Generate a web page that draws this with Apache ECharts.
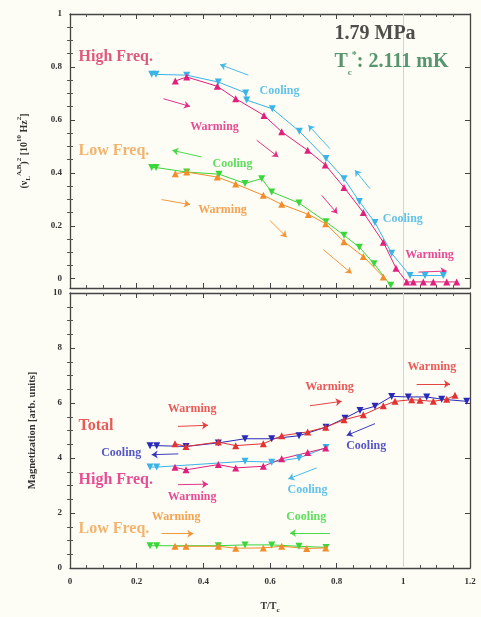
<!DOCTYPE html>
<html><head><meta charset="utf-8">
<script src="https://cdn.jsdelivr.net/npm/echarts@6/dist/echarts.min.js"></script>
<style>html,body{margin:0;padding:0;background:#fdfdf5;}#c{width:481px;height:617px;}</style>
</head><body><div id="c"></div>
<script>
// ---------- DATA ----------
// Top panel: (nu_L^{A,B})^2 [10^10 Hz^2] vs T/Tc
const hfCoolX = [0.245,0.258,0.35,0.445,0.527,0.53,0.607,0.688,0.768,0.822,0.868,0.915,0.965,1.02,1.065,1.12];
const hfCoolY = [0.772,0.772,0.769,0.743,0.702,0.675,0.642,0.557,0.454,0.378,0.292,0.212,0.096,0.012,0.012,0.012];
const hfWarmX = [0.316,0.35,0.442,0.497,0.582,0.635,0.713,0.766,0.822,0.88,0.94,0.978,1.01,1.03,1.06,1.09,1.13,1.16];
const hfWarmY = [0.747,0.762,0.727,0.68,0.617,0.555,0.485,0.43,0.345,0.25,0.138,0.04,-0.012,-0.012,-0.012,-0.012,-0.012,-0.012];
const lfCoolX = [0.245,0.258,0.35,0.447,0.525,0.575,0.605,0.687,0.768,0.822,0.868,0.912,0.962];
const lfCoolY = [0.42,0.42,0.403,0.395,0.36,0.378,0.328,0.286,0.215,0.164,0.119,0.057,-0.025];
const lfWarmX = [0.316,0.35,0.442,0.497,0.58,0.635,0.715,0.767,0.822,0.88,0.94];
const lfWarmY = [0.397,0.403,0.384,0.358,0.315,0.281,0.243,0.208,0.14,0.084,0.007];

// Bottom panel: Magnetization [arb. units] vs T/Tc
const totWarmX = [0.315,0.348,0.445,0.497,0.58,0.635,0.713,0.767,0.822,0.88,0.94,0.975,1.025,1.05,1.09,1.13,1.155];
const totWarmY = [4.52,4.42,4.58,4.45,4.52,4.81,4.95,5.12,5.39,5.57,5.9,6.06,6.12,6.1,6.06,6.14,6.28];
const totCoolX = [0.24,0.26,0.348,0.445,0.525,0.605,0.687,0.768,0.825,0.87,0.915,0.965,1.015,1.07,1.115,1.19];
const totCoolY = [4.45,4.45,4.42,4.55,4.7,4.7,4.81,5.12,5.45,5.73,5.88,6.24,6.22,6.22,6.14,6.06];
const mHfWarmX = [0.315,0.348,0.445,0.497,0.58,0.635,0.713,0.767];
const mHfWarmY = [3.66,3.57,3.76,3.64,3.7,3.97,4.2,4.36];
const mHfCoolX = [0.24,0.26,0.525,0.605,0.687,0.768];
const mHfCoolY = [3.67,3.67,3.88,3.85,4.0,4.38];
const mLfWarmX = [0.315,0.348,0.445,0.497,0.58,0.635,0.71,0.767];
const mLfWarmY = [0.79,0.79,0.79,0.72,0.73,0.79,0.71,0.73];
const mLfCoolX = [0.24,0.26,0.445,0.525,0.605,0.687,0.768];
const mLfCoolY = [0.81,0.81,0.81,0.84,0.84,0.79,0.75];

// tick values
const xTicks = [0,0.2,0.4,0.6,0.8,1,1.2];
const topYTicks = [0,0.2,0.4,0.6,0.8,1];
const botYTicks = [0,2,4,6,8,10];

// ---------- STYLE ----------
const FONT = "'Liberation Serif','DejaVu Serif',serif";
const C = {
  cyan:'#3bb3e6', mag:'#e0207c', green:'#3ad63a', orange:'#f28d2a',
  red:'#e23232', navy:'#2a2ab8', hfLabel:'#d4305c', lfLabel:'#f0a04c', tc:'#2e7a4e', axis:'#444'
};
const zip = (xs, ys) => xs.map((x, i) => [x, ys[i]]);

function minorVals(ticks, n) {
  const out = [];
  for (let i = 0; i < ticks.length - 1; i++) {
    const step = (ticks[i+1] - ticks[i]) / n;
    for (let k = 1; k < n; k++) out.push(+(ticks[i] + k * step).toFixed(4));
  }
  return out;
}
const labelStyle = {fontFamily: FONT, fontWeight: 'bold', fontSize: 9, color: '#333'};

function xAxis(gi, pos, showLabel, extra) {
  return Object.assign({
    type:'value', gridIndex:gi, position:pos, min:0, max:1.2, interval:0.2,
    axisLine:{show:true, onZero:false, lineStyle:{color:C.axis, width:1.3}},
    axisTick:{show:true, inside:true, length:5, lineStyle:{color:C.axis}},
    minorTick:{show:true, splitNumber:4, length:3, lineStyle:{color:'#555'}},
    axisLabel:Object.assign({show:showLabel, margin:9}, labelStyle),
    splitLine:{show:false}
  }, extra || {});
}
function yAxis(gi, pos, min, max, ticks, showLabel, extra) {
  return Object.assign({
    type:'value', gridIndex:gi, position:pos, min:min, max:max,
    axisLine:{show:true, onZero:false, lineStyle:{color:C.axis, width:1.3}},
    axisTick:{show:true, inside:true, length:5, customValues:ticks, lineStyle:{color:C.axis}},
    axisLabel:Object.assign({show:showLabel, margin:8, customValues:ticks}, labelStyle),
    splitLine:{show:false}
  }, extra || {});
}
function yMinor(gi, pos, min, max, ticks) {
  return {
    type:'value', gridIndex:gi, position:pos, min:min, max:max,
    axisLine:{show:false}, axisLabel:{show:false, customValues:[]},
    axisTick:{show:true, inside:true, length:3, customValues:minorVals(ticks,4), lineStyle:{color:'#555'}},
    splitLine:{show:false}
  };
}

const richSS = {
  b:{fontFamily:FONT, fontWeight:'bold', fontSize:10, color:'#333', lineHeight:16, verticalAlign:'middle'},
  sub:{fontFamily:FONT, fontWeight:'bold', fontSize:7, color:'#333', verticalAlign:'bottom'},
  sup:{fontFamily:FONT, fontWeight:'bold', fontSize:7, color:'#333', verticalAlign:'top'}
};

const TOPMIN = -0.035;
const xAxes = [
  xAxis(0,'bottom',false), xAxis(0,'top',false),
  xAxis(1,'bottom',true,{
    name:'{b|T/T}{sub|c}', nameLocation:'middle', nameGap:30,
    nameTextStyle:{rich:richSS}
  }), xAxis(1,'top',false)
];
const yAxes = [
  yAxis(0,'left',TOPMIN,1,topYTicks,true,{
    name:'{b|(ν}{sub|L}{sup|A,B}{b|)}{sup|2}{b| [10}{sup|10}{b| Hz}{sup|2}{b|]}',
    nameLocation:'middle', nameRotate:90, nameGap:38, nameTextStyle:{rich:richSS}
  }),
  yAxis(0,'right',TOPMIN,1,topYTicks,false),
  yMinor(0,'left',TOPMIN,1,topYTicks), yMinor(0,'right',TOPMIN,1,topYTicks),
  yAxis(1,'left',0,10,botYTicks,true,{
    name:'Magnetization [arb. units]', nameLocation:'middle', nameRotate:90, nameGap:32,
    nameTextStyle:{fontFamily:FONT, fontWeight:'bold', fontSize:10.5, color:'#333'}
  }),
  yAxis(1,'right',0,10,botYTicks,false),
  yMinor(1,'left',0,10,botYTicks), yMinor(1,'right',0,10,botYTicks)
];

function dataSeries(name, xs, ys, color, cooling, gi) {
  return {
    name:name, type:'line', xAxisIndex:gi===0?0:2, yAxisIndex:gi===0?0:4,
    data:zip(xs, ys), symbol:'triangle', symbolSize:7, symbolRotate:cooling?180:0,
    lineStyle:{color:color, width:1}, itemStyle:{color:color}, z:5, silent:true,
    animation:false
  };
}
function arrows(gi, color, list) {
  return {
    type:'lines', coordinateSystem:'cartesian2d', xAxisIndex:gi===0?0:2, yAxisIndex:gi===0?0:4,
    polyline:false, symbol:['none','arrow'], symbolSize:6,
    lineStyle:{color:color, width:1, opacity:0.9}, itemStyle:{color:color},
    data:list.map(a => ({coords:a})), z:4, silent:true, animation:false
  };
}
function texts(gi, list) {
  return {
    type:'scatter', xAxisIndex:gi===0?0:2, yAxisIndex:gi===0?0:4, symbolSize:1,
    itemStyle:{color:'rgba(0,0,0,0)'}, z:10, silent:true, animation:false,
    data:list.map(t => ({
      value:[t.x, t.y],
      label:Object.assign({
        show:true, position:[0,0], formatter:t.text, color:t.color,
        fontFamily:FONT, fontWeight:'bold', fontSize:t.size||12,
        align:t.align||'center', verticalAlign:'middle'
      }, t.extra||{})
    }))
  };
}

const vline = {
  silent:true, symbol:'none', label:{show:false},
  lineStyle:{color:'#d4d4d4', width:1, type:'solid'}, data:[{xAxis:1}], animation:false
};

const series = [];
const s0 = dataSeries('HF cooling', hfCoolX, hfCoolY, C.cyan, true, 0); s0.markLine = vline;
series.push(s0,
  dataSeries('HF warming', hfWarmX, hfWarmY, C.mag, false, 0),
  dataSeries('LF cooling', lfCoolX, lfCoolY, C.green, true, 0),
  dataSeries('LF warming', lfWarmX, lfWarmY, C.orange, false, 0));
const s1 = dataSeries('Total cooling', totCoolX, totCoolY, C.navy, true, 1); s1.markLine = vline;
series.push(s1,
  dataSeries('Total warming', totWarmX, totWarmY, C.red, false, 1),
  dataSeries('HF cooling M', mHfCoolX, mHfCoolY, C.cyan, true, 1),
  dataSeries('HF warming M', mHfWarmX, mHfWarmY, C.mag, false, 1),
  dataSeries('LF cooling M', mLfCoolX, mLfCoolY, C.green, true, 1),
  dataSeries('LF warming M', mLfWarmX, mLfWarmY, C.orange, false, 1));

// arrows (tail -> head), in data coordinates
series.push(
  arrows(0, C.cyan, [[[0.535,0.769],[0.45,0.809]], [[0.78,0.491],[0.715,0.58]], [[0.9,0.34],[0.855,0.41]]]),
  arrows(0, C.mag, [[[0.28,0.68],[0.36,0.651]], [[0.56,0.523],[0.625,0.46]], [[0.755,0.315],[0.802,0.246]], [[1.045,0.025],[1.13,0.029]]]),
  arrows(0, C.green, [[[0.395,0.46],[0.307,0.485]]]),
  arrows(0, C.orange, [[[0.275,0.299],[0.36,0.28]], [[0.6,0.22],[0.65,0.157]], [[0.76,0.11],[0.845,0.02]]]),
  arrows(1, C.red, [[[0.324,5.15],[0.414,5.19]], [[0.72,5.9],[0.815,6.06]], [[1.04,6.69],[1.14,6.69]]]),
  arrows(1, C.navy, [[[0.325,4.15],[0.245,4.12]], [[0.915,5.25],[0.83,4.82]]]),
  arrows(1, C.mag, [[[0.324,3.03],[0.414,3.05]]]),
  arrows(1, C.cyan, [[[0.74,3.64],[0.655,3.24]]]),
  arrows(1, C.orange, [[[0.275,1.25],[0.37,1.25]]]),
  arrows(1, C.green, [[[0.78,1.27],[0.66,1.27]]])
);

series.push(texts(0, [
  {text:'High Freq.', x:0.027, y:0.838, color:C.hfLabel, size:16, align:'left'},
  {text:'Low Freq.', x:0.027, y:0.481, color:C.lfLabel, size:16, align:'left'},
  {text:'Cooling', x:0.63, y:0.709, color:C.cyan},
  {text:'Warming', x:0.435, y:0.572, color:C.mag},
  {text:'Cooling', x:0.489, y:0.432, color:C.green},
  {text:'Warming', x:0.459, y:0.258, color:C.orange},
  {text:'Cooling', x:1.0, y:0.224, color:C.cyan},
  {text:'Warming', x:1.08, y:0.088, color:C.mag},
  {text:'1.79 MPa', x:0.795, y:0.924, color:'#222', size:20, align:'left'},
  {text:'{t|T}{sub|c}{sup|*}{t|: 2.111 mK}', x:0.795, y:0.818, color:C.tc, size:20, align:'left',
   extra:{rich:{
     t:{fontFamily:FONT, fontWeight:'bold', fontSize:20, color:C.tc, lineHeight:30, verticalAlign:'middle'},
     sub:{fontFamily:FONT, fontWeight:'bold', fontSize:9, color:C.tc, verticalAlign:'bottom'},
     sup:{fontFamily:FONT, fontWeight:'bold', fontSize:10, color:C.tc, verticalAlign:'top', padding:[4,0,0,0]}
   }}}
]));
series.push(texts(1, [
  {text:'Warming', x:0.368, y:5.78, color:C.red},
  {text:'Total', x:0.027, y:5.15, color:C.red, size:16, align:'left'},
  {text:'Cooling', x:0.155, y:4.18, color:C.navy},
  {text:'High Freq.', x:0.027, y:3.19, color:C.mag, size:16, align:'left'},
  {text:'Warming', x:0.368, y:2.56, color:C.mag},
  {text:'Warming', x:0.32, y:1.85, color:C.orange},
  {text:'Low Freq.', x:0.027, y:1.39, color:C.lfLabel, size:16, align:'left'},
  {text:'Cooling', x:0.71, y:1.85, color:C.green},
  {text:'Cooling', x:0.714, y:2.81, color:C.cyan},
  {text:'Cooling', x:0.89, y:4.42, color:C.navy},
  {text:'Warming', x:0.78, y:6.55, color:C.red},
  {text:'Warming', x:1.087, y:7.29, color:C.red}
]));

const chart = echarts.init(document.getElementById('c'), null, {renderer:'canvas'});
chart.setOption({
  backgroundColor:'#fdfdf5',
  animation:false,
  grid:[
    {left:70, right:11, top:14, height:274, show:false},
    {left:70, right:11, top:293, height:275, show:false}
  ],
  xAxis:xAxes,
  yAxis:yAxes,
  series:series
});
</script>
</body></html>
